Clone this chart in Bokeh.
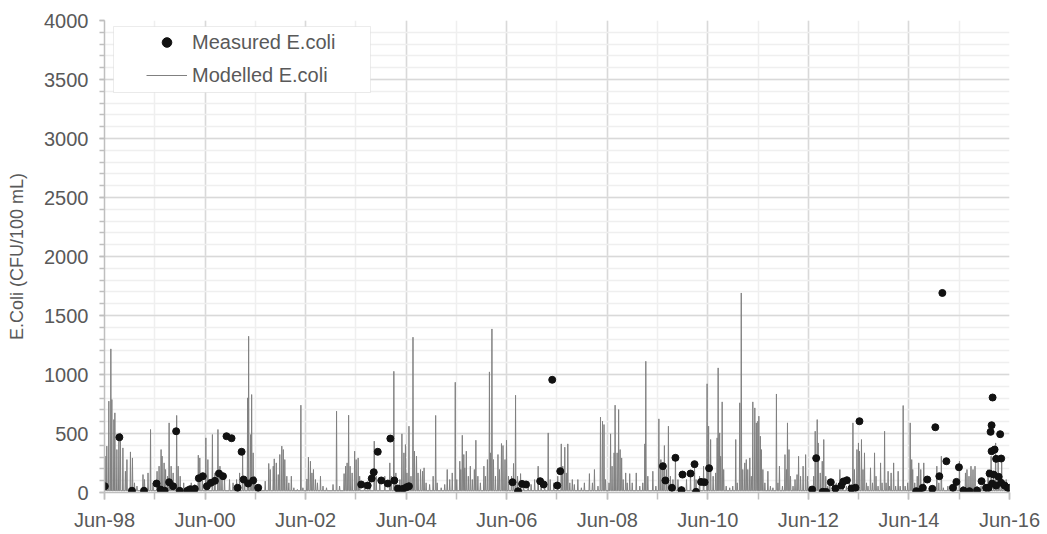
import datetime as dt
from bokeh.plotting import figure
from bokeh.models import (Range1d, FixedTicker, DatetimeTickFormatter, Legend,
                          LegendItem, BoxAnnotation, ColumnDataSource)
from bokeh.embed import file_html
from bokeh.resources import INLINE

# ---------------- data ----------------
# Measured E.coli samples: decimal year, CFU/100 mL
MEAS_T = [1998.42, 1998.71, 1998.96, 1999.20, 1999.45, 1999.53, 1999.61, 1999.70, 1999.78, 1999.84,
          1999.91, 2000.06, 2000.12, 2000.21, 2000.29, 2000.37, 2000.45, 2000.53, 2000.61, 2000.69,
          2000.77, 2000.84, 2000.94, 2001.06, 2001.14, 2001.18, 2001.27, 2001.37, 2001.47,
          2003.52, 2003.65, 2003.73, 2003.77, 2003.85, 2003.92, 2004.05, 2004.10, 2004.18, 2004.25,
          2004.35, 2004.42, 2004.47,
          2006.53, 2006.64, 2006.72, 2006.80, 2007.08, 2007.15, 2007.32, 2007.42, 2007.48,
          2009.52, 2009.57, 2009.70, 2009.77, 2009.89, 2009.91, 2010.07, 2010.15, 2010.18, 2010.28,
          2010.35, 2010.44,
          2012.49, 2012.57, 2012.70, 2012.77, 2012.86, 2012.95, 2013.07, 2013.11, 2013.18, 2013.27,
          2013.35, 2013.43,
          2014.56, 2014.61, 2014.69, 2014.78, 2014.88, 2014.94, 2015.02, 2015.08, 2015.16, 2015.29,
          2015.36, 2015.41, 2015.50, 2015.62, 2015.77, 2015.86, 2015.95, 2016.00, 2016.02, 2016.04,
          2016.06, 2016.08, 2016.06, 2016.12, 2016.15, 2016.23, 2016.25, 2016.10, 2016.07, 2016.15,
          2016.20, 2016.25, 2016.32, 2016.38, 2016.41]
MEAS_V = [53, 468, 15, 15, 76, 25, 15, 87, 53, 519,
          14, 14, 28, 31, 121, 138, 53, 82, 99, 161,
          138, 477, 460, 40, 345, 110, 76, 102, 40,
          68, 59, 119, 172, 345, 102, 76, 457, 102, 34,
          31, 45, 53,
          87, 11, 73, 68, 96, 68, 955, 59, 181,
          223, 102, 40, 294, 20, 152, 161, 240, 6, 90,
          87, 206,
          25, 291, 6, 5, 87, 34, 59, 93, 104, 34,
          40, 604,
          11, 3, 40, 110, 31, 553, 138, 1691, 265, 40,
          90, 214, 17, 11, 17, 96, 40, 40, 161, 514,
          570, 805, 350, 364, 285, 494, 288, 152, 76, 59,
          133, 82, 59, 40, 40]

# Modelled E.coli: spike peaks (decimal year, CFU/100 mL) and the floor the line returns to
MODEL_T = [1998.44, 1998.46, 1998.50, 1998.54, 1998.56, 1998.60, 1998.62, 1998.66, 1998.70, 1998.73,
           1998.78, 1998.83, 1998.86, 1998.93, 1998.97, 1999.01, 1999.06, 1999.18, 1999.21, 1999.28,
           1999.33, 1999.38, 1999.46, 1999.50, 1999.54, 1999.56, 1999.60, 1999.63, 1999.67, 1999.70,
           1999.74, 1999.78, 1999.85, 1999.88, 1999.92, 1999.99, 2000.06, 2000.14, 2000.21, 2000.28,
           2000.31, 2000.36, 2000.43, 2000.47, 2000.56, 2000.61, 2000.67, 2000.71, 2000.75, 2000.80,
           2000.90, 2000.97, 2001.04, 2001.10, 2001.16, 2001.20, 2001.26, 2001.28, 2001.32, 2001.34,
           2001.37,
           2001.40, 2001.50, 2001.61, 2001.68, 2001.71, 2001.77, 2001.79, 2001.83, 2001.87, 2001.90,
           2001.94, 2001.97, 2002.00, 2002.04, 2002.08, 2002.13, 2002.18, 2002.25, 2002.32, 2002.36,
           2002.44, 2002.47, 2002.51, 2002.54, 2002.57, 2002.61, 2002.65, 2002.71, 2002.76, 2002.83,
           2002.96, 2003.03, 2003.09, 2003.18, 2003.21, 2003.24, 2003.27, 2003.30, 2003.34, 2003.39,
           2003.42, 2003.46, 2003.49, 2003.59, 2003.69, 2003.78, 2003.82, 2003.89, 2003.99, 2004.09,
           2004.12, 2004.17, 2004.21, 2004.29, 2004.33, 2004.37,
           2004.40, 2004.43, 2004.47, 2004.51, 2004.55, 2004.58, 2004.62, 2004.65, 2004.70, 2004.74,
           2004.77, 2004.81, 2004.88, 2004.95, 2005.00, 2005.03, 2005.11, 2005.18, 2005.23, 2005.28,
           2005.33, 2005.39, 2005.42, 2005.48, 2005.50, 2005.53, 2005.56, 2005.58, 2005.61, 2005.65,
           2005.69, 2005.73, 2005.77, 2005.80, 2005.84, 2005.89, 2005.96, 2005.99, 2006.03, 2006.07,
           2006.09, 2006.12, 2006.15, 2006.19, 2006.24, 2006.27, 2006.31, 2006.34, 2006.38, 2006.41,
           2006.45, 2006.51, 2006.55, 2006.59, 2006.63, 2006.69, 2006.75, 2006.84, 2006.90, 2006.97,
           2007.04, 2007.10, 2007.17, 2007.24, 2007.28, 2007.35,
           2007.43, 2007.50, 2007.53, 2007.57, 2007.60, 2007.63, 2007.67, 2007.72, 2007.76, 2007.83,
           2007.90, 2007.96, 2008.06, 2008.12, 2008.16, 2008.23, 2008.28, 2008.32, 2008.35, 2008.38,
           2008.45, 2008.48, 2008.51, 2008.55, 2008.57, 2008.61, 2008.64, 2008.67, 2008.70, 2008.73,
           2008.78, 2008.81, 2008.86, 2008.91, 2008.99, 2009.06, 2009.12, 2009.16, 2009.18, 2009.22,
           2009.32, 2009.38, 2009.44, 2009.48, 2009.52, 2009.55, 2009.59, 2009.63, 2009.67, 2009.72,
           2009.77, 2009.82, 2009.89, 2009.99, 2010.07, 2010.15, 2010.18, 2010.25, 2010.33,
           2010.40, 2010.43, 2010.47, 2010.52, 2010.57, 2010.60, 2010.62, 2010.65, 2010.67, 2010.70,
           2010.73, 2010.78, 2010.85, 2010.91, 2010.97, 2011.00, 2011.05, 2011.08, 2011.11, 2011.15,
           2011.18, 2011.21, 2011.25, 2011.28, 2011.31, 2011.35, 2011.38, 2011.41, 2011.43, 2011.46,
           2011.48, 2011.51, 2011.55, 2011.61, 2011.66, 2011.71, 2011.78, 2011.81, 2011.84, 2011.90,
           2011.95, 2011.98, 2012.00, 2012.03, 2012.06, 2012.11, 2012.15, 2012.19, 2012.22, 2012.26,
           2012.31, 2012.36, 2012.40, 2012.45, 2012.52, 2012.55, 2012.59, 2012.61, 2012.65, 2012.69,
           2012.72, 2012.76, 2012.80, 2012.84, 2012.90, 2012.97, 2013.04, 2013.10, 2013.17, 2013.23,
           2013.30,
           2013.33, 2013.38, 2013.41, 2013.43, 2013.47, 2013.50, 2013.53, 2013.57, 2013.60, 2013.65,
           2013.69, 2013.73, 2013.76, 2013.80, 2013.85, 2013.88, 2013.93, 2013.96, 2014.00, 2014.03,
           2014.06, 2014.11, 2014.15, 2014.20, 2014.24, 2014.30, 2014.34, 2014.39, 2014.44, 2014.47,
           2014.49, 2014.53, 2014.58, 2014.61, 2014.65, 2014.68, 2014.71, 2014.75, 2014.83, 2014.89,
           2014.97, 2015.01, 2015.06, 2015.10, 2015.19, 2015.29, 2015.36, 2015.42, 2015.49, 2015.54,
           2015.57, 2015.61, 2015.65, 2015.69, 2015.73, 2015.77, 2015.85, 2015.92, 2015.99, 2016.05,
           2016.10, 2016.14, 2016.19, 2016.22, 2016.26, 2016.30, 2016.35, 2016.40]
MODEL_V = [308, 393, 774, 1217, 788, 618, 675, 364, 449, 505,
           378, 180, 279, 344, 293, 82, 54, 152, 110, 166,
           534, 82, 180, 223, 364, 308, 251, 195, 138, 590,
           223, 166, 653, 223, 138, 82, 54, 82, 68, 316,
           293, 166, 463, 279, 491, 166, 534, 223, 166, 138,
           110, 82, 110, 166, 322, 82, 802, 1324, 491, 830,
           336,
           138, 54, 96, 246, 195, 223, 285, 251, 152, 322,
           393, 364, 279, 138, 82, 138, 40, 26, 740, 40,
           115, 299, 265, 166, 195, 110, 82, 138, 54, 40,
           68, 689, 54, 160, 223, 251, 655, 223, 166, 350,
           279, 293, 138, 82, 110, 435, 138, 110, 138, 251,
           138, 1027, 166, 110, 497, 336,
           406, 166, 562, 138, 1316, 350, 308, 166, 195, 180,
           209, 82, 68, 138, 653, 82, 40, 68, 195, 110,
           166, 934, 110, 265, 195, 485, 322, 209, 350, 138,
           223, 110, 195, 443, 138, 82, 223, 138, 279, 1022,
           336, 1386, 279, 138, 322, 195, 415, 398, 279, 443,
           138, 138, 246, 824, 138, 160, 82, 54, 68, 110,
           223, 110, 54, 505, 110, 82,
           138, 412, 223, 384, 166, 412, 82, 110, 68, 110,
           40, 82, 160, 82, 195, 54, 638, 604, 576, 110,
           82, 497, 223, 336, 740, 336, 703, 364, 293, 110,
           166, 82, 160, 82, 166, 54, 82, 412, 1112, 138,
           180, 54, 624, 279, 195, 398, 195, 562, 138, 110,
           308, 110, 54, 110, 166, 223, 110, 138, 223,
           921, 562, 449, 138, 166, 463, 1056, 505, 307, 768,
           195, 54, 40, 54, 449, 82, 760, 1691, 195, 251,
           279, 195, 293, 138, 768, 717, 590, 604, 647, 477,
           364, 195, 82, 180, 54, 40, 835, 82, 223, 54,
           321, 195, 590, 364, 138, 54, 110, 152, 307, 138,
           223, 321, 138, 54, 138, 519, 618, 420, 166, 265,
           449, 138, 54, 110, 54, 82, 195, 124, 54, 110,
           590,
           195, 364, 420, 350, 449, 195, 336, 82, 54, 209,
           82, 336, 138, 54, 251, 82, 519, 82, 180, 54,
           166, 251, 54, 180, 54, 737, 54, 82, 590, 279,
           195, 82, 138, 251, 195, 26, 251, 54, 26, 54,
           223, 82, 307, 40, 54, 40, 82, 265, 54, 166,
           195, 138, 223, 195, 223, 54, 54, 82, 195, 307,
           138, 420, 279, 110, 265, 82, 110, 54]
MODEL_FLOOR = 15
MODEL_START = 1998.417

Y_TICKS = list(range(0, 4001, 500))
Y_MINOR = list(range(0, 4001, 100))
X_TICK_YEARS = list(range(1998, 2017, 2))
X_MINOR_YEARS = list(range(1998, 2017))

SERIES_MEAS = "Measured E.coli"
SERIES_MODEL = "Modelled E.coli"
Y_TITLE = "E.Coli (CFU/100 mL)"


# ---------------- helpers ----------------
def dec2dt(y):
    yr = int(y)
    start = dt.datetime(yr, 1, 1)
    end = dt.datetime(yr + 1, 1, 1)
    return start + (end - start) * (y - yr)


def ms(d):
    return (d - dt.datetime(1970, 1, 1)).total_seconds() * 1000.0


# spike line: each peak rises from and falls back to the floor
n = min(len(MODEL_T), len(MODEL_V))
pairs = sorted(zip(MODEL_T[:n], MODEL_V[:n]))
lx, ly = [MODEL_START], [MODEL_FLOOR]
for i, (t, v) in enumerate(pairs):
    prev_t = pairs[i - 1][0] if i > 0 else MODEL_START
    next_t = pairs[i + 1][0] if i + 1 < len(pairs) else t + 0.02
    lx.append(t - min((t - prev_t) / 2.0, 0.008)); ly.append(MODEL_FLOOR)
    lx.append(t); ly.append(v)
    lx.append(t + min((next_t - t) / 2.0, 0.008)); ly.append(MODEL_FLOOR)

model_src = ColumnDataSource(dict(x=[dec2dt(t) for t in lx], y=ly))
m = min(len(MEAS_T), len(MEAS_V))
meas_src = ColumnDataSource(dict(x=[dec2dt(t) for t in MEAS_T[:m]], y=MEAS_V[:m]))

FONT = "Liberation Sans"
TXT = "#595959"
FRAME_H = 472

p = figure(width=1046, height=533, x_axis_type="datetime",
           x_range=Range1d(dt.datetime(1998, 6, 1), dt.datetime(2016, 6, 1)),
           y_range=Range1d(0, 4000),
           output_backend="svg", toolbar_location=None,
           min_border_left=104, min_border_right=37, min_border_top=20, min_border_bottom=41)
p.outline_line_color = None
p.background_fill_color = "white"
p.border_fill_color = "white"

model_r = p.line("x", "y", source=model_src, line_color="#808080", line_width=1)
meas_r = p.scatter("x", "y", source=meas_src, marker="circle", size=7,
                   fill_color="#111111", line_color="#111111")

# axes
p.xaxis.ticker = FixedTicker(ticks=[ms(dt.datetime(y, 6, 1)) for y in X_TICK_YEARS],
                             minor_ticks=[ms(dt.datetime(y, 6, 1)) for y in X_MINOR_YEARS])
fmt = "%b-%y"
p.xaxis.formatter = DatetimeTickFormatter(microseconds=fmt, milliseconds=fmt, seconds=fmt,
                                          minsec=fmt, minutes=fmt, hourmin=fmt, hours=fmt,
                                          days=fmt, months=fmt, years=fmt)
p.yaxis.ticker = FixedTicker(ticks=Y_TICKS, minor_ticks=Y_MINOR)

for ax in (p.xaxis[0], p.yaxis[0]):
    ax.axis_line_color = "#bfbfbf"
    ax.axis_line_width = 1.5
    ax.major_tick_line_color = "#bfbfbf"
    ax.minor_tick_line_color = "#bfbfbf"
    ax.major_tick_line_width = 1.5
    ax.minor_tick_line_width = 1.5
    ax.major_tick_in = 0
    ax.minor_tick_in = 0
    ax.major_label_text_font = FONT
    ax.major_label_text_font_size = "20px"
    ax.major_label_text_color = TXT

p.xaxis.major_tick_out = 7
p.xaxis.minor_tick_out = 7
p.xaxis.major_label_standoff = 9
p.yaxis.major_tick_out = 5
p.yaxis.minor_tick_out = 5
p.yaxis.major_label_standoff = 11
p.yaxis.axis_label = Y_TITLE
p.yaxis.axis_label_text_font = FONT
p.yaxis.axis_label_text_font_size = "18px"
p.yaxis.axis_label_text_font_style = "normal"
p.yaxis.axis_label_text_color = TXT
p.yaxis.axis_label_standoff = 14

# grids
for g in (p.xgrid[0], p.ygrid[0]):
    g.grid_line_color = "#d9d9d9"
    g.grid_line_width = 1.5
    g.minor_grid_line_color = "#efefef"
    g.minor_grid_line_width = 1.5

# legend box + legend
box = BoxAnnotation(left=9, right=266, bottom=FRAME_H - 72, top=FRAME_H - 6,
                    left_units="screen", right_units="screen",
                    bottom_units="screen", top_units="screen",
                    fill_color="white", fill_alpha=1.0,
                    line_color="#bfbfbf", line_width=1)
p.add_layout(box)

legend = Legend(items=[LegendItem(label=SERIES_MEAS, renderers=[meas_r]),
                       LegendItem(label=SERIES_MODEL, renderers=[model_r])],
                location=(42, FRAME_H - 67), padding=0, spacing=9, margin=0,
                glyph_width=41, glyph_height=24, label_height=24, label_standoff=5,
                border_line_alpha=0, background_fill_alpha=0,
                label_text_font=FONT, label_text_font_size="20px", label_text_color=TXT)
p.add_layout(legend)

open("out.html", "w").write(file_html(p, INLINE))
